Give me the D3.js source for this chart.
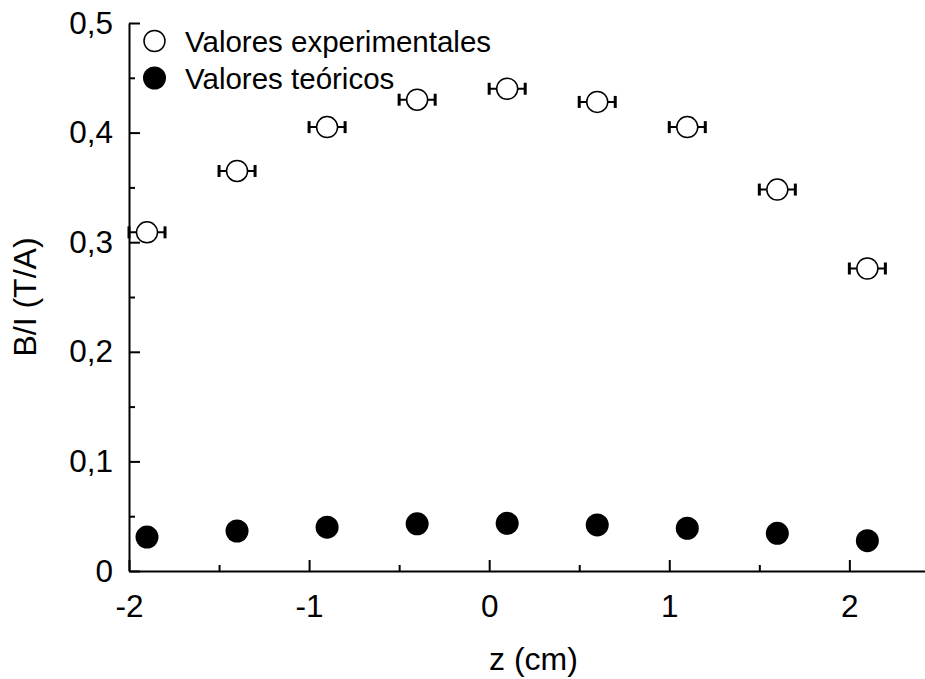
<!DOCTYPE html>
<html>
<head>
<meta charset="utf-8">
<script src="https://cdn.jsdelivr.net/npm/d3@7"></script>
<style>
  body { margin: 0; background: #fff; }
  svg { font-family: "Liberation Sans", Arial, sans-serif; }
</style>
</head>
<body>
<svg></svg>
<script>
// z positions (cm)
var zValues = [-1.9, -1.4, -0.9, -0.4, 0.1, 0.6, 1.1, 1.6, 2.1];
// measured B/I (T/A)
var expValues = [0.309, 0.365, 0.405, 0.430, 0.440, 0.428, 0.405, 0.348, 0.276];
// error in z (cm)
var zErr = [0.1, 0.1, 0.1, 0.1, 0.1, 0.1, 0.1, 0.1, 0.1];
// theoretical B/I (T/A)
var theoValues = [0.031, 0.0365, 0.040, 0.043, 0.0435, 0.042, 0.039, 0.0344, 0.0277];

var xTicks = [-2, -1, 0, 1, 2];
var xMinor = [-1.5, -0.5, 0.5, 1.5];
var yTicks = [0, 0.1, 0.2, 0.3, 0.4, 0.5];
var yMinor = [0.05, 0.15, 0.25, 0.35, 0.45];
var legendLabels = ["Valores experimentales", "Valores teóricos"];

var width = 925, height = 679;
var margin = {left: 129, top: 23, right: 0, bottom: 108};
var tickFont = 31.5, titleFont = 32, legendFont = 29.5;

var svg = d3.select("svg")
  .attr("width", width)
  .attr("height", height);

var x = d3.scaleLinear().domain([-2, 2.42]).range([margin.left, width - margin.right]);
var y = d3.scaleLinear().domain([0, 0.5]).range([height - margin.bottom, margin.top]);

var fmt = d => d === 0 ? "0" : d3.format(".1f")(d).replace(".", ",");

// minor ticks
svg.append("g")
  .attr("transform", "translate(0," + y(0) + ")")
  .call(d3.axisBottom(x).tickValues(xMinor).tickSizeInner(-6).tickSizeOuter(0).tickFormat(""))
  .call(g => g.select(".domain").remove())
  .call(g => g.selectAll("line").attr("stroke-width", 2));

svg.append("g")
  .attr("transform", "translate(" + x(-2) + ",0)")
  .call(d3.axisLeft(y).tickValues(yMinor).tickSizeInner(-6).tickSizeOuter(0).tickFormat(""))
  .call(g => g.select(".domain").remove())
  .call(g => g.selectAll("line").attr("stroke-width", 2));

// major axes
svg.append("g")
  .attr("transform", "translate(0," + y(0) + ")")
  .call(d3.axisBottom(x).tickValues(xTicks).tickSizeInner(-11).tickSizeOuter(0).tickPadding(24)
    .tickFormat(d => String(d)))
  .call(g => g.select(".domain").attr("stroke-width", 2))
  .call(g => g.selectAll("line").attr("stroke-width", 2))
  .call(g => g.selectAll("text").attr("font-size", tickFont).attr("fill", "#000")
    .attr("font-family", "Liberation Sans, Arial, sans-serif"));

svg.append("g")
  .attr("transform", "translate(" + x(-2) + ",0)")
  .call(d3.axisLeft(y).tickValues(yTicks).tickSizeInner(-11).tickSizeOuter(0).tickPadding(16)
    .tickFormat(fmt))
  .call(g => g.select(".domain").attr("stroke-width", 2))
  .call(g => g.selectAll("line").attr("stroke-width", 2))
  .call(g => g.selectAll("text").attr("font-size", tickFont).attr("fill", "#000")
    .attr("font-family", "Liberation Sans, Arial, sans-serif"));

// axis titles
svg.append("text")
  .attr("x", 533.5)
  .attr("y", 670)
  .attr("text-anchor", "middle")
  .attr("font-size", titleFont)
  .text("z (cm)");

svg.append("text")
  .attr("transform", "translate(36," + ((y(0) + y(0.5)) / 2) + ") rotate(-90)")
  .attr("text-anchor", "middle")
  .attr("font-size", titleFont)
  .text("B/I (T/A)");

// theoretical points
svg.append("g")
  .selectAll("circle")
  .data(zValues)
  .join("circle")
    .attr("cx", d => x(d))
    .attr("cy", (d, i) => y(theoValues[i]))
    .attr("r", 11.5)
    .attr("fill", "#000");

// experimental points with x error bars
var expG = svg.append("g");
var bars = expG.selectAll("g")
  .data(zValues)
  .join("g");

bars.append("line")
  .attr("x1", (d, i) => x(d - zErr[i]))
  .attr("x2", (d, i) => x(d + zErr[i]))
  .attr("y1", (d, i) => y(expValues[i]))
  .attr("y2", (d, i) => y(expValues[i]))
  .attr("stroke", "#000")
  .attr("stroke-width", 2);

[-1, 1].forEach(function(s) {
  bars.append("line")
    .attr("x1", (d, i) => x(d + s * zErr[i]))
    .attr("x2", (d, i) => x(d + s * zErr[i]))
    .attr("y1", (d, i) => y(expValues[i]) - 6)
    .attr("y2", (d, i) => y(expValues[i]) + 6)
    .attr("stroke", "#000")
    .attr("stroke-width", 3);
});

bars.append("circle")
  .attr("cx", d => x(d))
  .attr("cy", (d, i) => y(expValues[i]))
  .attr("r", 10.5)
  .attr("fill", "#fff")
  .attr("stroke", "#000")
  .attr("stroke-width", 1.5);

// legend
var legend = svg.append("g");
legendLabels.forEach(function(label, i) {
  var cy = 41 + i * 37;
  legend.append("circle")
    .attr("cx", 154.5)
    .attr("cy", cy)
    .attr("r", i === 0 ? 10.5 : 11.5)
    .attr("fill", i === 0 ? "#fff" : "#000")
    .attr("stroke", "#000")
    .attr("stroke-width", i === 0 ? 1.5 : 0);
  legend.append("text")
    .attr("x", 185)
    .attr("y", cy + 11)
    .attr("font-size", legendFont)
    .text(label);
});
</script>
</body>
</html>
